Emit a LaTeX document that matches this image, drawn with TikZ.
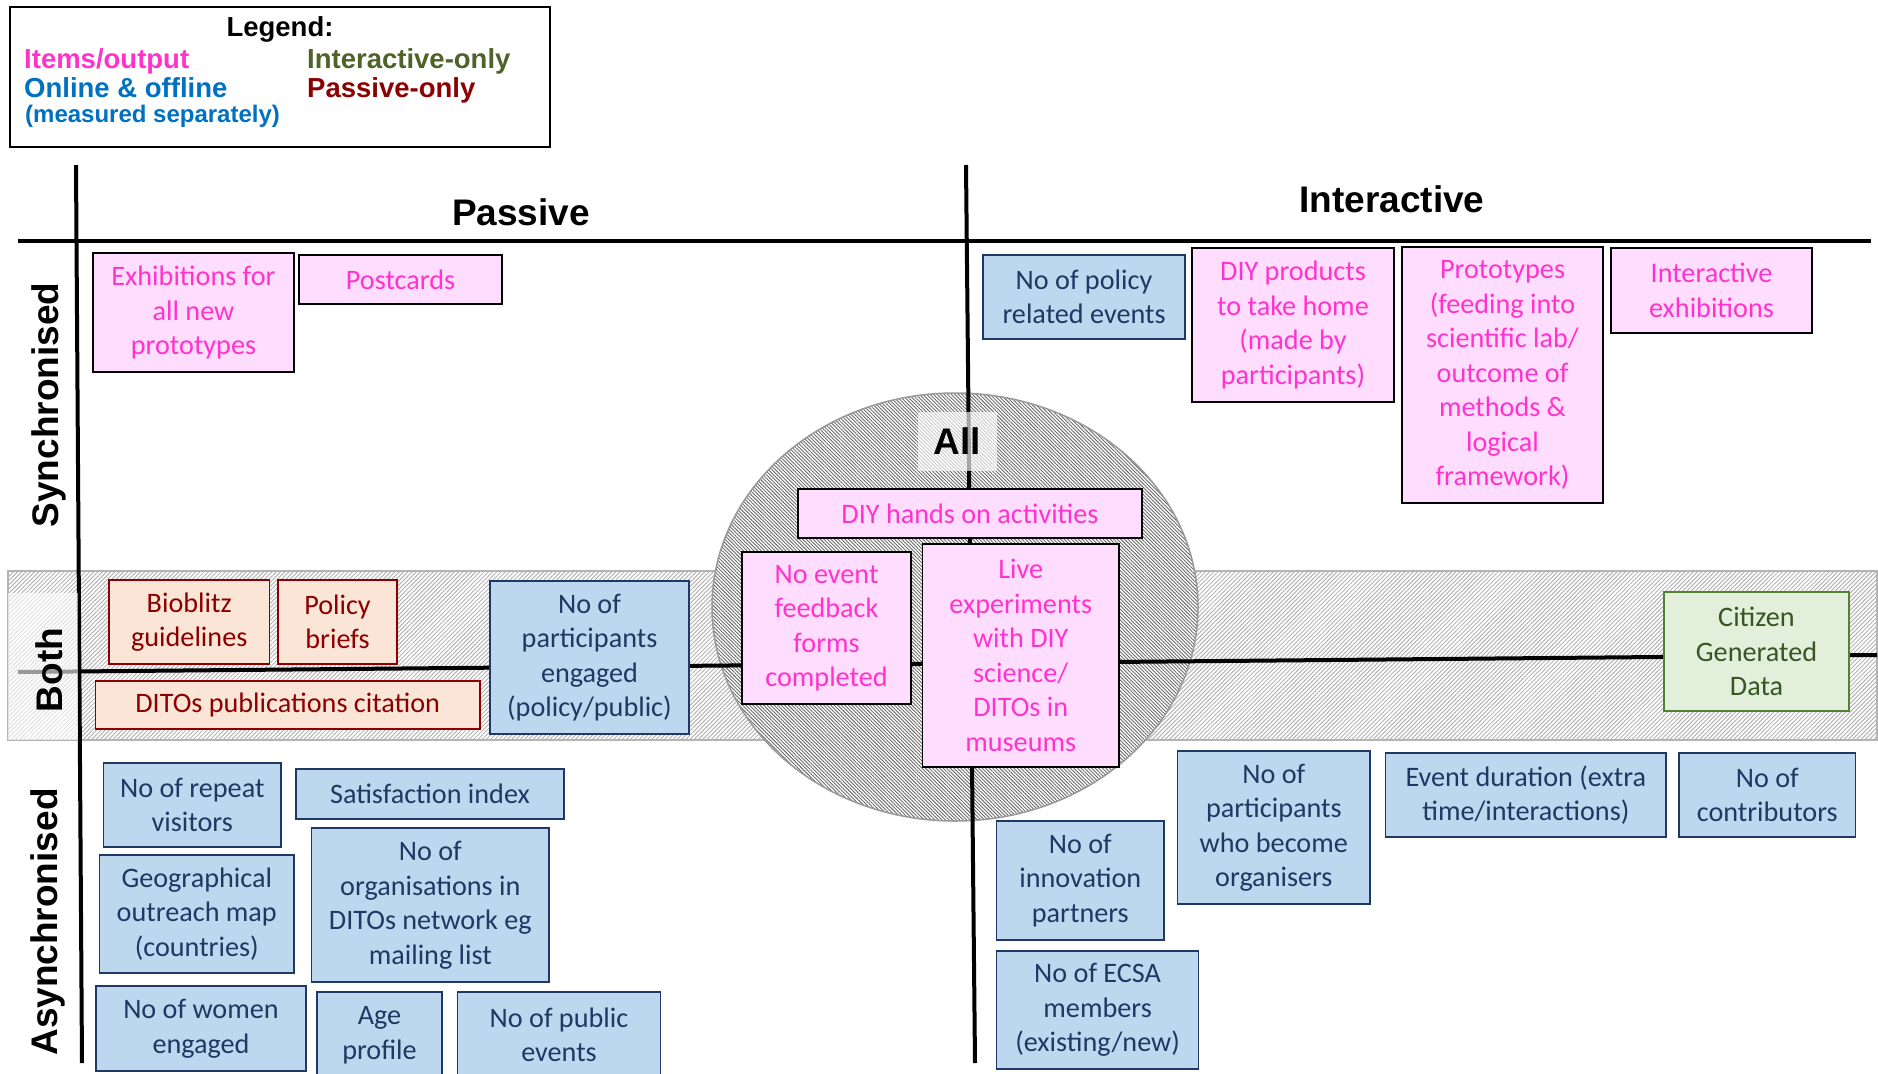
\documentclass[tikz,border=0pt]{standalone}
\usepackage{fontspec}
\setmainfont{Carlito}
\newfontfamily\headfont{Liberation Sans}
\usetikzlibrary{patterns.meta}

\definecolor{itemcol}{HTML}{FF33CC}
\definecolor{itemfill}{HTML}{FFDDFF}
\definecolor{onlinecol}{HTML}{0070C0}
\definecolor{navy}{HTML}{1F3864}
\definecolor{onlinefill}{HTML}{BDD7EE}
\definecolor{intercol}{HTML}{4F6228}
\definecolor{intertext}{HTML}{375623}
\definecolor{interfill}{HTML}{E2EFDA}
\definecolor{interline}{HTML}{548235}
\definecolor{passcol}{HTML}{8B0000}
\definecolor{passfill}{HTML}{FBE5D6}
\definecolor{hatchdark}{HTML}{6A6A6A}
\definecolor{hatchlight}{HTML}{B4B4B4}

\tikzset{
  box/.style={draw, line width=1.5pt, align=center, inner sep=0pt,
    font=\fontsize{28.2}{34.5}\selectfont},
  wh/.style 2 args={minimum width=#1pt, minimum height=#2pt},
  itembox/.style={box, draw=black, fill=itemfill, text=itemcol},
  onlinebox/.style={box, draw=navy, fill=onlinefill, text=navy},
  passbox/.style={box, draw=passcol, fill=passfill, text=passcol},
  interbox/.style={box, draw=interline, fill=interfill, text=intertext},
  axis/.style={line width=4pt, black},
  header/.style={inner sep=0pt, font=\headfont\bfseries\fontsize{37}{44}\selectfont},
  legendtext/.style={anchor=base west, inner sep=0pt,
    font=\headfont\bfseries\fontsize{27.5}{32}\selectfont},
  bandfill/.style={draw=hatchlight, line width=2pt,
    pattern={Lines[angle=45,distance=3pt,line width=1pt]}, pattern color=hatchlight},
  allfill/.style={draw=gray!80, line width=1.5pt, preaction={fill=white},
    pattern={Lines[angle=-45,distance=2.5pt,line width=0.9pt]}, pattern color=hatchdark},
}

\begin{document}
\begin{tikzpicture}[x=1pt,y=-1pt]
\clip (0,0) rectangle (1878,1073);

% ---------- Both band and All circle ----------
\draw[bandfill] (8,571) rectangle (1877,740);
\draw[allfill] (955,607) ellipse [x radius=243pt, y radius=214pt];

% ---------- axes ----------
\coordinate (topL) at (18,241);
\coordinate (topR) at (1871,241);
\coordinate (leftT) at (76,165);
\coordinate (leftB) at (82,1063);
\coordinate (midT) at (966,165);
\coordinate (midB) at (975,1063);
\coordinate (bothL) at (18,672);
\coordinate (bothR) at (1877,655);
\draw[axis] (topL) -- (topR);
\draw[axis] (leftT) -- (leftB);
\draw[axis] (midT) -- (midB);
\draw[axis] (bothL) -- (bothR);

% ---------- axis labels ----------
\node[header, anchor=base] (passive) at (521,225) {Passive};
\node[header, anchor=base] (interactive) at (1392,212) {Interactive};
\node[header, rotate=90] (sync) at (49,405) {Synchronised};
\fill[white, fill opacity=0.6] (8,593) rectangle (78,740);
\node[header, rotate=90] (both) at (49,670) {Both};
\node[header, rotate=90] (async) at (48,922) {Asynchronised};
\node[header, fill=white, fill opacity=0.65, text opacity=1, wh={79}{59}] (all) at (957.5,441.5) {All};

% ---------- Legend ----------
\node[draw, line width=1.5pt, wh={540}{140}] (legend) at (280,77) {};
\node[header, anchor=base, font=\headfont\bfseries\fontsize{27.5}{32}\selectfont] (legtitle) at (280,37) {Legend:};
\node[legendtext, text=itemcol] (legitem) at (24,68) {Items/output};
\node[legendtext, text=onlinecol] (legonline) at (24,97) {Online \& offline};
\node[legendtext, text=onlinecol, font=\headfont\bfseries\fontsize{24}{28}\selectfont] (legmeas) at (25,122) {(measured separately)};
\node[legendtext, text=intercol] (leginter) at (307,68) {Interactive-only};
\node[legendtext, text=passcol] (legpass) at (307,97) {Passive-only};

% ---------- Synchronised / Passive ----------
\node[itembox, wh={201}{119}] (exhib) at (193.5,312.5) {Exhibitions for\\all new\\prototypes};
\node[itembox, wh={203}{49}] (postc) at (400.5,279.5) {Postcards};

% ---------- Synchronised / Interactive ----------
\node[onlinebox, wh={202}{84}] (policyev) at (1084,297) {No of policy\\related events};
\node[itembox, wh={202}{154}] (diyprod) at (1293,325) {DIY products\\to take home\\(made by\\participants)};
\node[itembox, wh={201}{256}] (proto) at (1502.5,375) {Prototypes\\(feeding into\\scientific lab/\\outcome of\\methods \&\\logical\\framework)};
\node[itembox, wh={201}{85}] (interex) at (1711.5,290.5) {Interactive\\exhibitions};

% ---------- All ----------
\node[itembox, wh={344}{49}] (diyhands) at (970,513.5) {DIY hands on activities};
\node[itembox, wh={169}{152}] (feedback) at (826.5,628) {No event\\feedback\\forms\\completed};
\node[itembox, wh={196.5}{223}] (live) at (1020.75,655.5) {Live\\experiments\\with DIY\\science/\\DITOs in\\museums};

% ---------- Both ----------
\node[passbox, wh={160.5}{84}] (bioblitz) at (189.25,622) {Bioblitz\\guidelines};
\node[passbox, wh={119}{84}] (polbrief) at (337.5,622) {Policy\\briefs};
\node[passbox, wh={384.5}{48}] (ditospub) at (287.75,705) {DITOs publications citation};
\node[onlinebox, wh={199}{153}] (partic) at (589.5,657.5) {No of\\participants\\engaged\\(policy/public)};
\node[interbox, wh={185}{119}] (citizen) at (1756.5,651.5) {Citizen\\Generated\\Data};

% ---------- Asynchronised / Passive ----------
\node[onlinebox, wh={177.4}{84}] (repeat) at (192.3,805) {No of repeat\\visitors};
\node[onlinebox, wh={268}{50}] (satisf) at (430,794) {Satisfaction index};
\node[onlinebox, wh={194.5}{118}] (geo) at (196.75,914) {Geographical\\outreach map\\(countries)};
\node[onlinebox, wh={237.4}{154}] (orgs) at (430.3,905) {No of\\organisations in\\DITOs network eg\\mailing list};
\node[onlinebox, wh={210}{85}] (women) at (201,1028.5) {No of women\\engaged};
\node[onlinebox, wh={125}{86}] (age) at (379.5,1035) {Age\\profile};
\node[onlinebox, wh={203}{86}] (pubev) at (559,1035) {No of public\\events};

% ---------- Asynchronised / Interactive ----------
\node[onlinebox, wh={167.4}{119}] (innov) at (1080.3,880.5) {No of\\innovation\\partners};
\node[onlinebox, wh={202}{118}] (ecsa) at (1097.6,1010) {No of ECSA\\members\\(existing/new)};
\node[onlinebox, wh={192.4}{153}] (organisers) at (1273.8,827.5) {No of\\participants\\who become\\organisers};
\node[onlinebox, wh={280.4}{84}] (duration) at (1525.8,795) {Event duration (extra\\time/interactions)};
\node[onlinebox, wh={176.5}{84}] (contrib) at (1767.25,795) {No of\\contributors};

\end{tikzpicture}
\end{document}
